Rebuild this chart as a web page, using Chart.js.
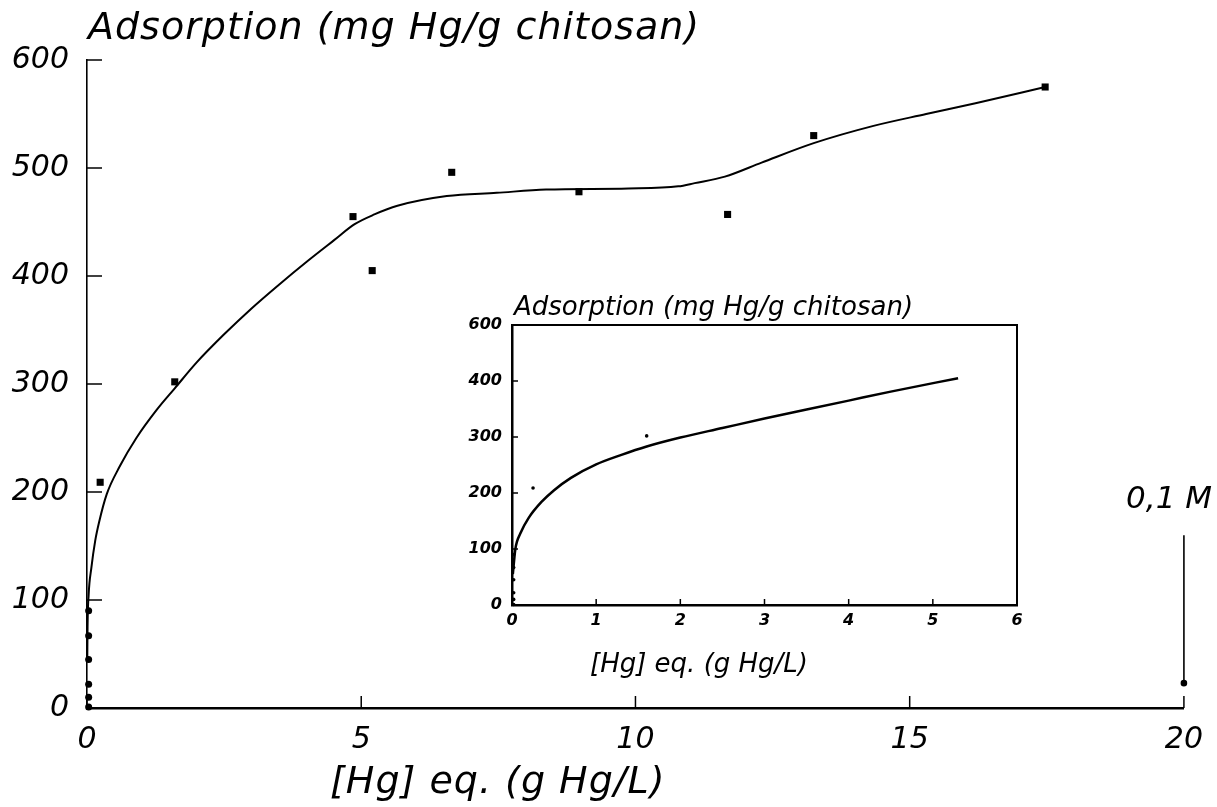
<!DOCTYPE html>
<html>
<head>
<meta charset="utf-8">
<script src="https://cdn.jsdelivr.net/npm/chart.js@4"></script>
<style>
  html, body { margin: 0; padding: 0; background: #fff; }
  #wrap { position: relative; width: 1217px; height: 807px; overflow: hidden; }
  #main { position: absolute; left: 0; top: 0; }
  #inset { position: absolute; left: 430px; top: 280px; }
</style>
</head>
<body>
<div id="wrap">
  <canvas id="main" width="1217" height="807"></canvas>
  <canvas id="inset" width="620" height="420"></canvas>
</div>
<script>
// measured points, main plot (g Hg/L vs mg Hg/g)
const lowX = [0.03, 0.03, 0.03, 0.03, 0.03, 0.03];
const lowY = [1, 10, 22, 45, 67, 90];
const dataX = [0.24, 1.6, 4.85, 5.2, 6.65, 8.97, 11.68, 13.25, 17.47];
const dataY = [209, 302, 455, 405, 496, 478, 457, 530, 575];

// fitted curve, main plot
const fitX = [0.005, 0.01, 0.03, 0.08, 0.15, 0.22, 0.36, 0.6, 0.9, 1.27, 1.6, 2.0, 2.5, 3.0, 3.5, 4.0, 4.5, 4.88, 5.24, 5.66, 6.56, 7.47, 8.37, 9.87, 10.78, 11.08, 11.63, 12.3, 13.25, 14.34, 15.3, 16.2, 17.47];
const fitY = [45, 75, 105, 130, 155, 172, 198, 224, 250, 276, 296, 320, 346, 370, 392, 413, 433, 448, 457, 465, 474, 477, 480, 481, 483, 486, 492, 505, 523, 539, 550, 560, 575];

// 0,1 M marker
const markX = [20, 20];
const markY = [23, 160];

// inset: same low range points + its own fit
const insetDataX = [0.02, 0.02, 0.02, 0.02, 0.02, 0.02, 0.25, 1.6];
const insetDataY = [1, 10, 22, 45, 67, 90, 209, 302];
const insetFitX = [0.01, 0.04, 0.1, 0.2, 0.35, 0.5, 0.7, 1.0, 1.3, 1.6, 2.0, 2.5, 3.0, 3.5, 4.0, 4.5, 5.3];
const insetFitY = [55, 100, 128, 156, 184, 205, 227, 251, 268, 283, 299, 316, 333, 349, 365, 381, 405];

const mainXTicks = [0, 5, 10, 15, 20];
const mainYTicks = [0, 100, 200, 300, 400, 500, 600];
const insetXTicks = ['0', '1', '2', '3', '4', '5', '6'];
const insetYTicks = ['0', '100', '200', '300', '400', '600'];

const FAM = "'DejaVu Sans', sans-serif";

function pts(xs, ys) {
    return xs.map((x, i) => ({ x: x, y: ys[i] }));
}

// ticks drawn on the inside of the axes
const inwardTicks = {
    id: 'inwardTicks',
    afterDraw(chart, args, opts) {
        const { ctx, chartArea, scales } = chart;
        ctx.save();
        ctx.strokeStyle = '#000';
        ctx.lineWidth = opts.width || 1.5;
        scales.y.ticks.forEach(t => {
            const py = scales.y.getPixelForValue(t.value);
            ctx.beginPath();
            ctx.moveTo(chartArea.left, py);
            ctx.lineTo(chartArea.left + opts.yLen, py);
            ctx.stroke();
        });
        scales.x.ticks.forEach(t => {
            const px = scales.x.getPixelForValue(t.value);
            ctx.beginPath();
            ctx.moveTo(px, chartArea.bottom);
            ctx.lineTo(px, chartArea.bottom - opts.xLen);
            ctx.stroke();
        });
        if (opts.box) {
            ctx.lineWidth = 2;
            ctx.strokeRect(chartArea.left, chartArea.top, chartArea.right - chartArea.left, chartArea.bottom - chartArea.top);
        }
        ctx.restore();
    }
};

// free text labels (titles)
const texts = {
    id: 'texts',
    afterDraw(chart, args, opts) {
        const ctx = chart.ctx;
        ctx.save();
        ctx.fillStyle = '#000';
        ctx.textBaseline = 'alphabetic';
        (opts.items || []).forEach(it => {
            ctx.font = it.font;
            ctx.textAlign = it.align || 'left';
            ctx.letterSpacing = it.spacing || '0px';
            ctx.fillText(it.text, it.x, it.y);
        });
        ctx.restore();
    }
};

new Chart(document.getElementById('main'), {
    type: 'scatter',
    data: {
        datasets: [
            {
                label: 'fit',
                data: pts(fitX, fitY),
                showLine: true,
                borderColor: '#000',
                borderWidth: 2,
                pointRadius: 0,
                cubicInterpolationMode: 'monotone',
                clip: false
            },
            {
                label: 'data',
                data: pts(dataX, dataY),
                pointStyle: 'rect',
                pointRadius: 5,
                backgroundColor: '#000',
                borderColor: '#000',
                borderWidth: 0,
                clip: false
            },
            {
                label: 'low',
                data: pts(lowX, lowY),
                pointStyle: 'circle',
                pointRadius: 3.5,
                backgroundColor: '#000',
                borderWidth: 0,
                clip: false
            },
            {
                label: '0,1 M',
                data: pts(markX, markY),
                showLine: true,
                borderColor: '#000',
                backgroundColor: '#000',
                borderWidth: 1.6,
                pointRadius: [2.5, 0],
                clip: false
            }
        ]
    },
    options: {
        responsive: false,
        animation: false,
        layout: { padding: { left: 0, top: 60, right: 24, bottom: 0 } },
        plugins: {
            legend: { display: false },
            tooltip: { enabled: false },
            inwardTicks: { yLen: 15, xLen: 12, width: 1.5 },
            texts: {
                items: [
                    { text: 'Adsorption (mg Hg/g chitosan)', x: 88, y: 39, font: 'italic 38px ' + FAM, spacing: '1px' },
                    { text: '[Hg] eq. (g Hg/L)', x: 330, y: 793, font: 'italic 38px ' + FAM, spacing: '1px' },
                    { text: '0,1 M', x: 1212, y: 508, font: 'italic 31px ' + FAM, align: 'right' }
                ]
            }
        },
        scales: {
            x: {
                type: 'linear',
                min: 0,
                max: 20,
                afterBuildTicks: s => { s.ticks = mainXTicks.map(v => ({ value: v })); },
                ticks: { font: { family: FAM, size: 30, style: 'italic' }, color: '#000', padding: 14, maxRotation: 0 },
                grid: { display: false, drawTicks: false },
                border: { display: true, color: '#000', width: 2.5 },
                afterFit: s => { s.height = 99; }
            },
            y: {
                type: 'linear',
                min: 0,
                max: 600,
                afterBuildTicks: s => { s.ticks = mainYTicks.map(v => ({ value: v })); },
                ticks: { font: { family: FAM, size: 30, style: 'italic' }, color: '#000', padding: 18 },
                grid: { display: false, drawTicks: false },
                border: { display: true, color: '#000', width: 1.6 },
                afterFit: s => { s.width = 87; }
            }
        }
    },
    plugins: [inwardTicks, texts]
});

new Chart(document.getElementById('inset'), {
    type: 'scatter',
    data: {
        datasets: [
            {
                label: 'fit',
                data: pts(insetFitX, insetFitY),
                showLine: true,
                borderColor: '#000',
                borderWidth: 2.5,
                pointRadius: 0,
                cubicInterpolationMode: 'monotone',
                clip: false
            },
            {
                label: 'data',
                data: pts(insetDataX, insetDataY),
                pointStyle: 'circle',
                pointRadius: 1.8,
                backgroundColor: '#000',
                borderWidth: 0,
                clip: false
            }
        ]
    },
    options: {
        responsive: false,
        animation: false,
        layout: { padding: { left: 0, top: 45, right: 33, bottom: 0 } },
        plugins: {
            legend: { display: false },
            tooltip: { enabled: false },
            inwardTicks: { yLen: 6, xLen: 6, width: 1.5, box: true },
            texts: {
                items: [
                    { text: 'Adsorption (mg Hg/g chitosan)', x: 84, y: 35, font: 'italic 26px ' + FAM },
                    { text: '[Hg] eq. (g Hg/L)', x: 160, y: 392, font: 'italic 26px ' + FAM }
                ]
            }
        },
        scales: {
            x: {
                type: 'linear',
                min: 0,
                max: 6,
                ticks: {
                    stepSize: 1,
                    callback: (v, i) => insetXTicks[i],
                    font: { family: FAM, size: 16, style: 'italic', weight: 'bold' },
                    color: '#000',
                    padding: 6,
                    maxRotation: 0
                },
                grid: { display: false, drawTicks: false },
                border: { display: true, color: '#000', width: 2.5 },
                afterFit: s => { s.height = 95; }
            },
            y: {
                type: 'linear',
                min: 0,
                max: 500,
                ticks: {
                    stepSize: 100,
                    callback: (v, i) => insetYTicks[i],
                    font: { family: FAM, size: 16, style: 'italic', weight: 'bold' },
                    color: '#000',
                    padding: 10
                },
                grid: { display: false, drawTicks: false },
                border: { display: true, color: '#000', width: 2.5 },
                afterFit: s => { s.width = 82; }
            }
        }
    },
    plugins: [inwardTicks, texts]
});
</script>
</body>
</html>
